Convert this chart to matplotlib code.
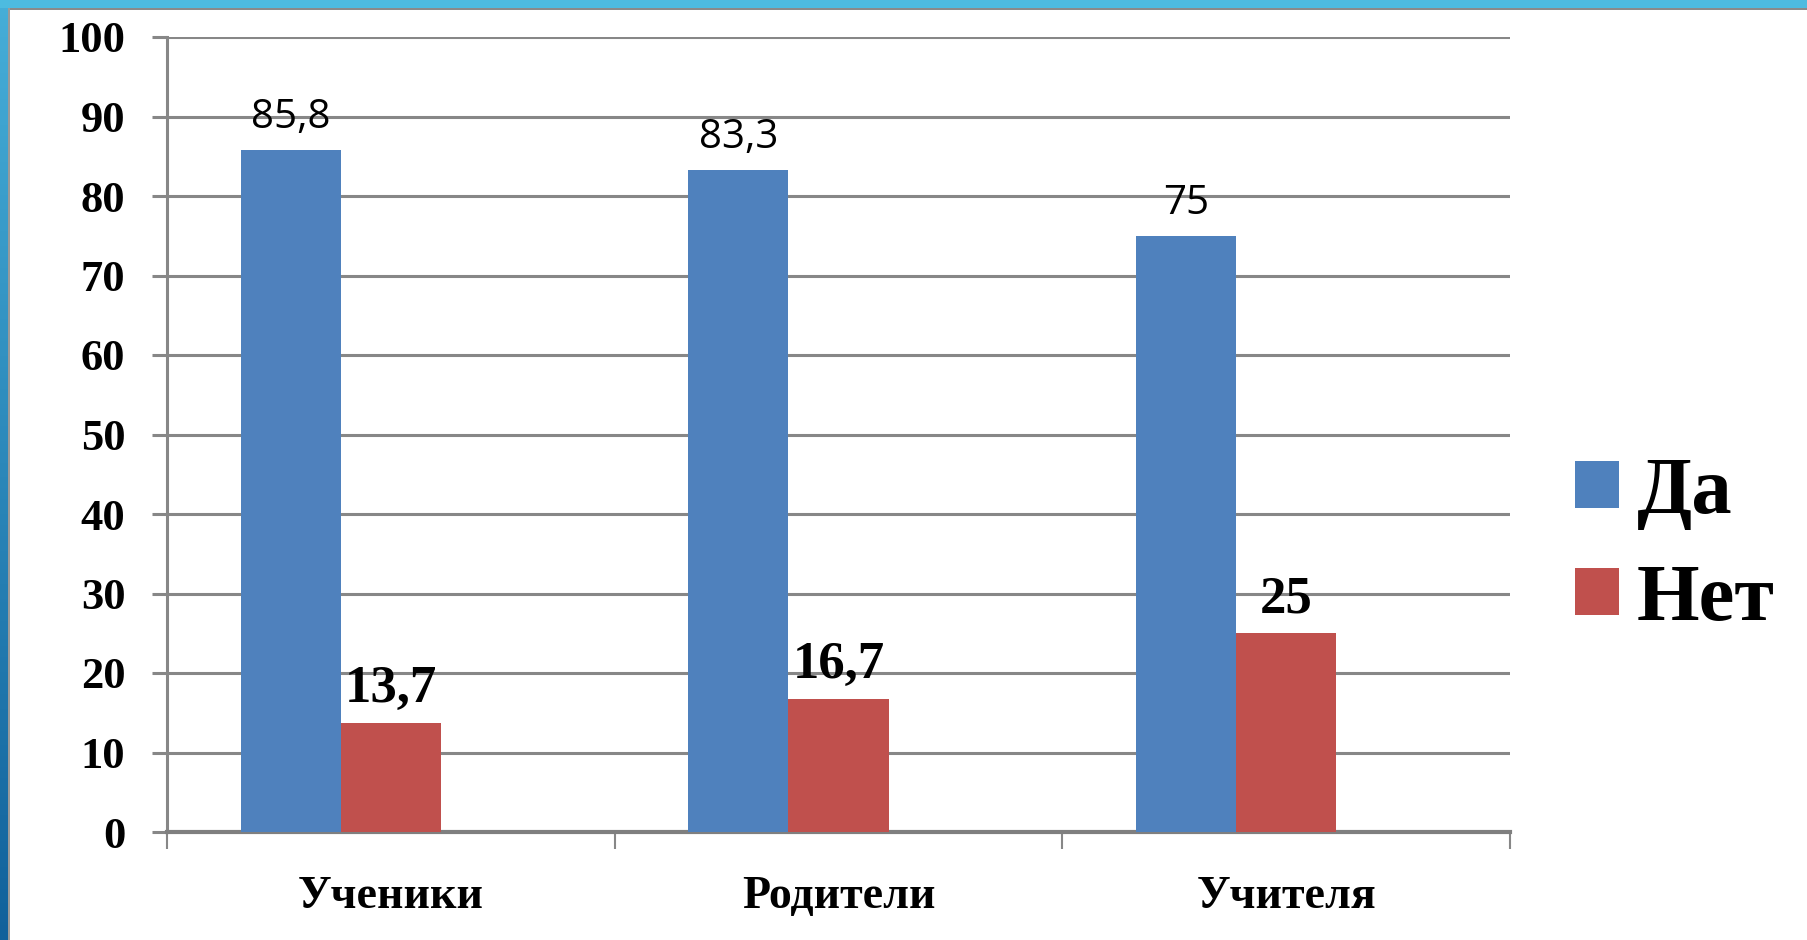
import numpy as np
import matplotlib
matplotlib.use("Agg")
import matplotlib.pyplot as plt
from matplotlib.patches import Rectangle, Patch

# chart data
categories = ["Ученики", "Родители", "Учителя"]
series_names = ["Да", "Нет"]
yes_values = [85.8, 83.3, 75]
no_values = [13.7, 16.7, 25]
yes_labels = ["85,8", "83,3", "75"]
no_labels = ["13,7", "16,7", "25"]
y_ticks = [0, 10, 20, 30, 40, 50, 60, 70, 80, 90, 100]

BLUE = "#4F81BD"
RED = "#C0504D"
GRID = "#878787"
SERIF = "Liberation Serif"

W, H = 1807, 940
fig = plt.figure(figsize=(W / 100, H / 100), dpi=100)
fig.patch.set_facecolor("white")

ax = fig.add_axes([167 / W, 1 - 832 / H, (1510 - 167) / W, (832 - 37) / H])
x = np.arange(len(categories))
bw = 0.2235

ax.bar(x - bw, yes_values, bw, color=BLUE, zorder=3)
ax.bar(x, no_values, bw, color=RED, zorder=3)

for xi, v, s in zip(x, yes_values, yes_labels):
    ax.annotate(s, (xi - bw, v), xytext=(0, 16), textcoords="offset points",
                ha="center", va="baseline", fontsize=29, family="Open Sans", zorder=4)
for xi, v, s in zip(x, no_values, no_labels):
    ax.annotate(s, (xi, v), xytext=(0, 15), textcoords="offset points",
                ha="center", va="baseline", fontsize=38, family=SERIF,
                fontweight="bold", zorder=4)

ax.set_xlim(-0.5, len(categories) - 0.5)
ax.set_ylim(0, 100)
ax.set_yticks(y_ticks)
ax.set_yticklabels([str(t) for t in y_ticks], fontsize=32, family=SERIF, fontweight="bold")
ax.set_xticks(x)
ax.set_xticklabels(categories, fontsize=33, family=SERIF, fontweight="bold")
ax.set_xticks(np.arange(len(categories) + 1) - 0.5, minor=True)

ax.tick_params(axis="x", which="major", length=0, pad=32)
ax.tick_params(axis="x", which="minor", length=12, width=1.5, color=GRID, direction="out")
ax.tick_params(axis="y", length=11, width=2.2, color=GRID, direction="out", pad=19)

ax.grid(axis="y", color=GRID, linewidth=2.2, zorder=0)
ax.set_axisbelow(True)
for side in ["top", "right"]:
    ax.spines[side].set_visible(False)
ax.spines["left"].set_color(GRID)
ax.spines["left"].set_linewidth(2.2)
ax.spines["bottom"].set_color("#7f7f7f")
ax.spines["bottom"].set_linewidth(3)

handles = [Patch(facecolor=BLUE), Patch(facecolor=RED)]
fig.legend(handles, series_names, loc="center left",
           bbox_to_anchor=(1575 / W, 1 - 547 / H), frameon=False,
           prop={"family": SERIF, "weight": "bold", "size": 58},
           handlelength=0.54, handleheight=0.52, handletextpad=0.23,
           labelspacing=0.42, borderpad=0, borderaxespad=0)

# slide frame: blue band at top, gradient strip on the left
fig.add_artist(Rectangle((0, 1 - 8 / H), 1, 8 / H, transform=fig.transFigure,
                         facecolor="#4dbbe0", edgecolor="none"))
fig.add_artist(Rectangle((8 / W, 1 - 10 / H), 1, 2 / H, transform=fig.transFigure,
                         facecolor="#8a8a8a", edgecolor="none"))
fig.add_artist(Rectangle((8 / W, 0), 2 / W, 1 - 8 / H, transform=fig.transFigure,
                         facecolor="#9a9a9a", edgecolor="none"))
strip = fig.add_axes([0, 0, 8 / W, 1])
grad = np.linspace(0, 1, 256).reshape(-1, 1)
cmap = matplotlib.colors.LinearSegmentedColormap.from_list("frame", ["#46aed8", "#11619b"])
strip.imshow(grad, aspect="auto", cmap=cmap)
strip.axis("off")

fig.savefig("out.png", dpi=100)
